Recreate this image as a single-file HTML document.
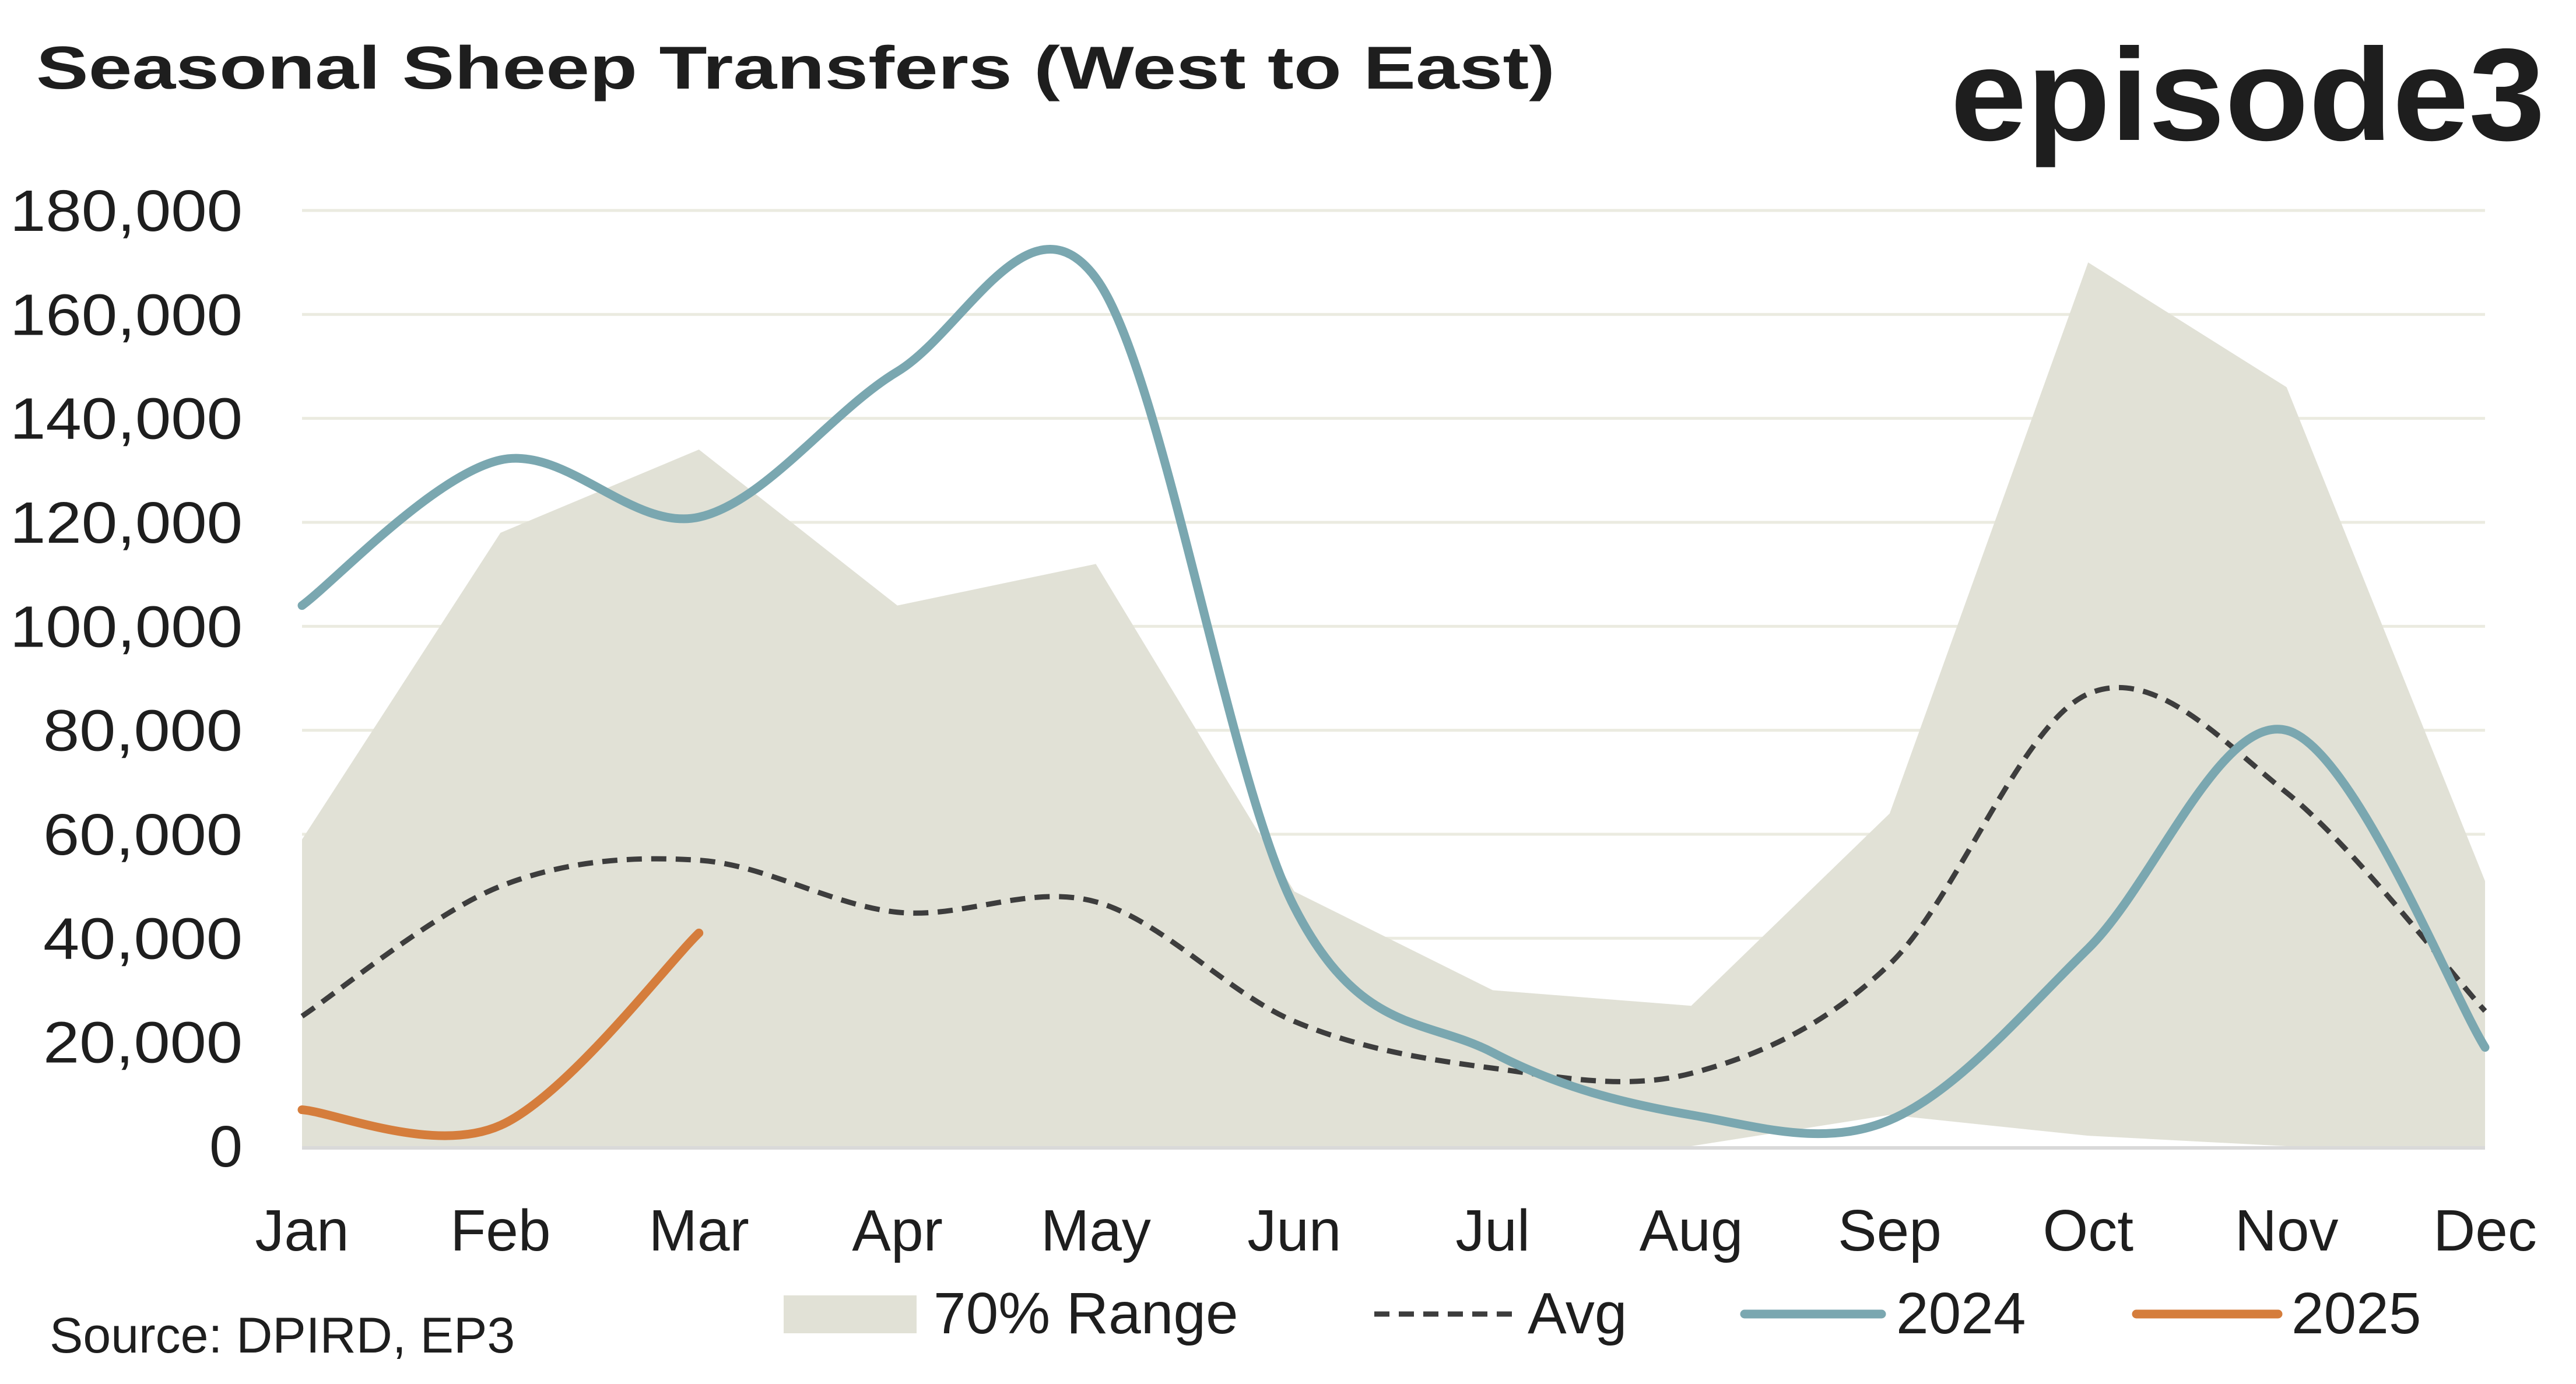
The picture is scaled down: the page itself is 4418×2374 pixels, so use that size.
<!DOCTYPE html>
<html><head><meta charset="utf-8"><style>
html,body{margin:0;padding:0;background:#fff}
svg{display:block}
text{font-family:"Liberation Sans",sans-serif;fill:#1e1e1e}
</style></head><body>
<svg id="chart" width="4418" height="2374" viewBox="0 0 4418 2374" xmlns="http://www.w3.org/2000/svg">
<text x="62" y="152" font-size="104" font-weight="bold" textLength="2605" lengthAdjust="spacingAndGlyphs">Seasonal Sheep Transfers (West to East)</text>
<text x="3345" y="240" font-size="225" font-weight="bold" textLength="1020" lengthAdjust="spacingAndGlyphs">episode3</text>
<g id="grid"></g>
<g id="marks"></g>
<g id="axes"></g>
<text x="85" y="2320" font-size="86">Source: DPIRD, EP3</text>
<g id="legend"></g>
</svg>
<script>
const months = ["Jan","Feb","Mar","Apr","May","Jun","Jul","Aug","Sep","Oct","Nov","Dec"];
const yTicks = [0,20000,40000,60000,80000,100000,120000,140000,160000,180000];
const rangeUpper = [59000,118000,134000,104000,112000,49000,30000,27000,64000,170000,146000,51000];
const rangeLower = [0,0,0,0,0,0,0,0,6000,2000,0,0];
const avgValues = [25000,50000,55000,45000,47000,24000,15000,14000,35000,87000,68000,26000];
const values2024 = [104000,132000,121000,149000,167000,46000,18000,6000,5000,38000,80000,19000];
const values2025 = [7000,4000,41000];

const NS="http://www.w3.org/2000/svg";
const X0=518,X1=4262,Y0=1966,Y1=361,YMAX=180000;
const x=i=>X0+(X1-X0)*i/11;
const y=v=>Y0-(Y0-Y1)*v/YMAX;
function mk(tag,attrs,parent){const e=document.createElementNS(NS,tag);for(const k in attrs)e.setAttribute(k,attrs[k]);parent.appendChild(e);return e;}
function smooth(vals){
  const p=vals.map((v,i)=>[x(i),y(v)]);
  let d=`M${p[0][0]},${p[0][1]}`;
  for(let i=0;i<p.length-1;i++){
    const p0=p[i-1]||p[i],p1=p[i],p2=p[i+1],p3=p[i+2]||p2;
    const t=6;
    d+=` C${p1[0]+(p2[0]-p0[0])/t},${p1[1]+(p2[1]-p0[1])/t} ${p2[0]-(p3[0]-p1[0])/t},${p2[1]-(p3[1]-p1[1])/t} ${p2[0]},${p2[1]}`;
  }
  return d;
}
const grid=document.getElementById('grid'),marks=document.getElementById('marks'),axes=document.getElementById('axes'),legend=document.getElementById('legend');
yTicks.forEach(v=>{
  if(v>0){const g=mk('line',{x1:X0,x2:X1,y1:y(v),y2:y(v),stroke:'#ebebe0','stroke-width':5},grid);
  
  }
  const s=v.toLocaleString('en-US');
  const t=mk('text',{x:416,y:y(v)+35,'font-size':100,'text-anchor':'end',textLength:s.length*57,lengthAdjust:'spacingAndGlyphs'},axes);
  t.textContent=s;
  
  
});
months.forEach((m,i)=>{
  const t=mk('text',{x:x(i),y:2145,'font-size':100,'text-anchor':'middle'},axes);
  t.textContent=m;
  
  
});
let d='';
rangeUpper.forEach((v,i)=>{d+=(i?'L':'M')+x(i)+','+y(v)+' ';});
for(let i=rangeLower.length-1;i>=0;i--)d+='L'+x(i)+','+y(rangeLower[i])+' ';
const area=mk('path',{d:d+'Z',fill:'#e1e1d6'},marks);


const base=mk('line',{x1:X0,x2:X1,y1:Y0+3,y2:Y0+3,stroke:'#d9d9d9','stroke-width':6},marks);


const avg=mk('path',{d:smooth(avgValues),fill:'none',stroke:'#3d3d3d','stroke-width':9,'stroke-dasharray':'26 16'},marks);


const l24=mk('path',{d:smooth(values2024),fill:'none',stroke:'#7aa7b0','stroke-width':15,'stroke-linecap':'round'},marks);


const l25=mk('path',{d:smooth(values2025),fill:'none',stroke:'#d57d3c','stroke-width':15,'stroke-linecap':'round'},marks);


const lg1=mk('rect',{x:1344,y:2222,width:228,height:65,fill:'#e1e1d6'},legend);


const lt1=mk('text',{x:1601,y:2287,'font-size':100},legend);lt1.textContent='70% Range';


const lg2=mk('line',{x1:2357,x2:2597,y1:2254,y2:2254,stroke:'#3d3d3d','stroke-width':9,'stroke-dasharray':'26 16'},legend);


const lt2=mk('text',{x:2620,y:2287,'font-size':100},legend);lt2.textContent='Avg';


const lg3=mk('line',{x1:2992,x2:3227,y1:2254,y2:2254,stroke:'#7aa7b0','stroke-width':15,'stroke-linecap':'round'},legend);


const lt3=mk('text',{x:3252,y:2287,'font-size':100},legend);lt3.textContent='2024';


const lg4=mk('line',{x1:3664,x2:3907,y1:2254,y2:2254,stroke:'#d57d3c','stroke-width':15,'stroke-linecap':'round'},legend);


const lt4=mk('text',{x:3930,y:2287,'font-size':100},legend);lt4.textContent='2025';


</script>
</body></html>
